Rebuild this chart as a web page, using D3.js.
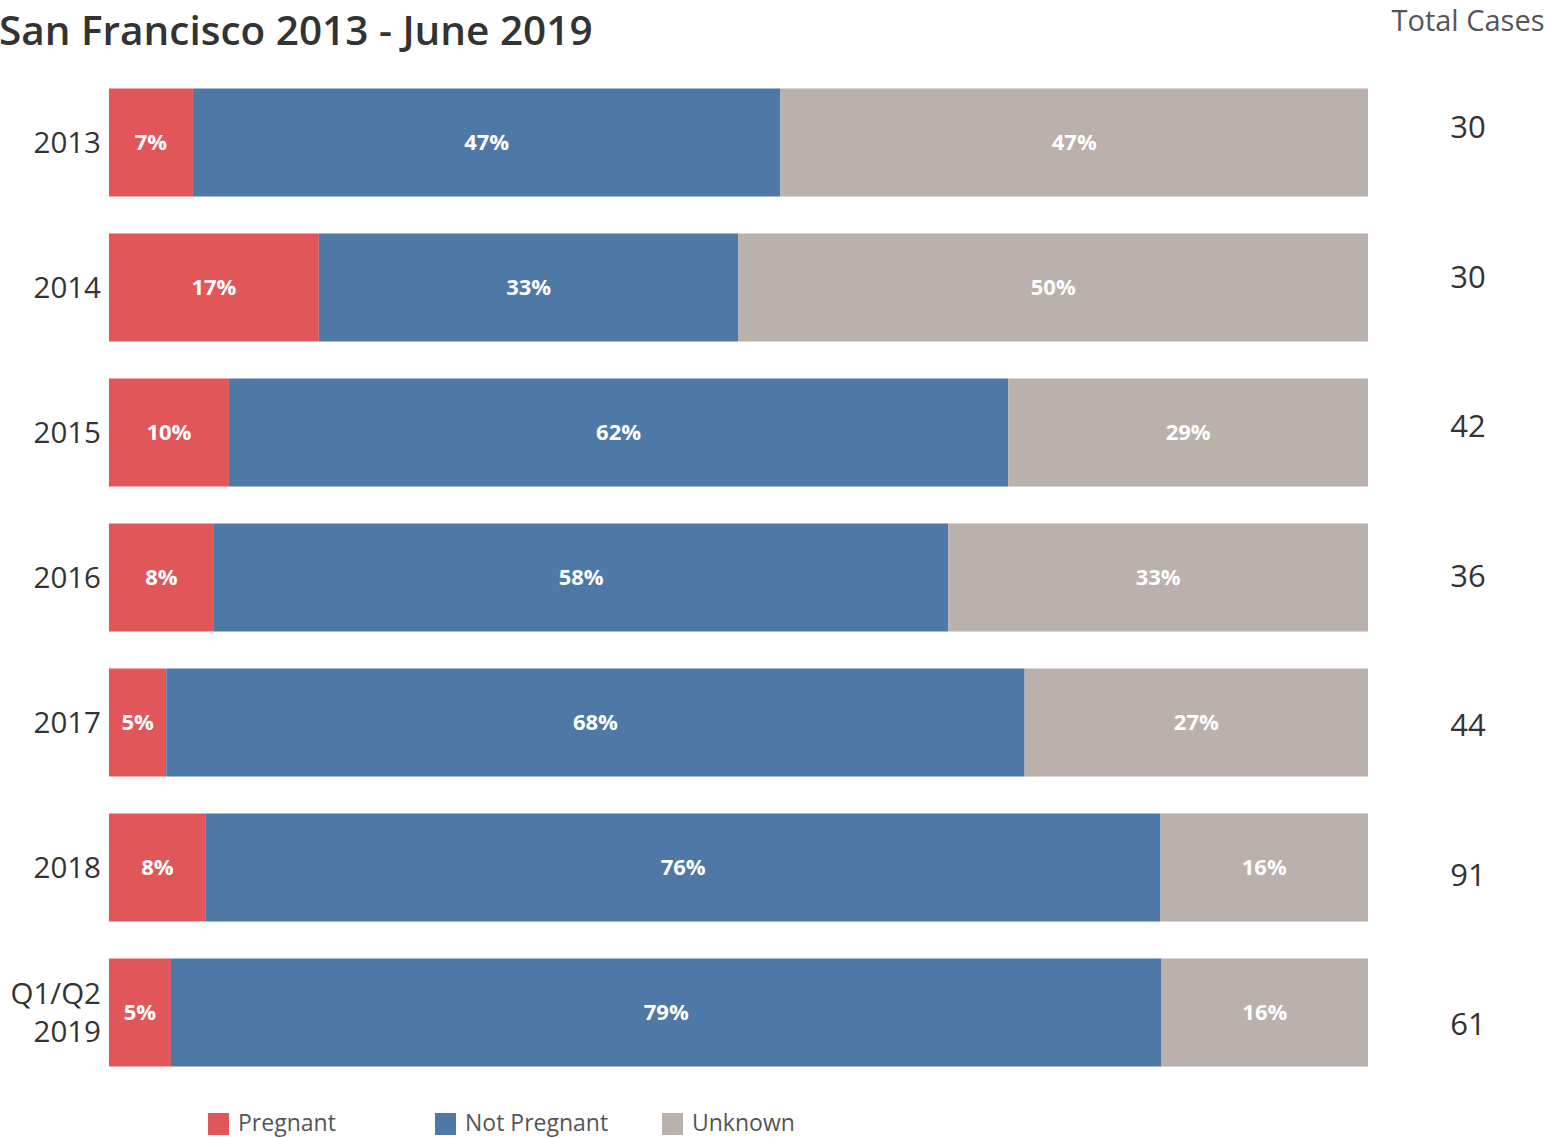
<!DOCTYPE html>
<html>
<head>
<meta charset="utf-8">
<script src="https://cdn.jsdelivr.net/npm/d3@7"></script>
<style>
  html, body { margin: 0; padding: 0; background: #fff; }
  svg { display: block; }
</style>
</head>
<body>
<svg id="chart" width="1555" height="1138"></svg>
<script>
// Case counts by period and pregnancy status
const periods = ["2013", "2014", "2015", "2016", "2017", "2018", "Q1/Q2\n2019"];
const pregnant = [2, 5, 4, 3, 2, 7, 3];
const notPregnant = [14, 10, 26, 21, 30, 69, 48];
const unknown = [14, 15, 12, 12, 12, 15, 10];
const seriesNames = ["Pregnant", "Not Pregnant", "Unknown"];
const seriesColors = ["#e15759", "#4e79a7", "#bab0ac"];

const svg = d3.select("#chart");
const font = "'Open Sans', 'Noto Sans', sans-serif";

const rows = periods.map((p, i) => {
  const total = pregnant[i] + notPregnant[i] + unknown[i];
  return { period: p, total, values: [pregnant[i], notPregnant[i], unknown[i]] };
});

const x = d3.scaleLinear().domain([0, 1]).range([109, 1368]);
const y = d3.scaleBand().domain(periods).range([70, 1085]).paddingInner(0.255).paddingOuter(0.1275);
const yTotals = d3.scaleBand().domain(periods).range([52.25, 1098.75]);
const color = d3.scaleOrdinal().domain(seriesNames).range(seriesColors);

// Title
svg.append("text")
  .attr("x", -1).attr("y", 45)
  .attr("font-family", font).attr("font-weight", 600).attr("font-size", 40.5)
  .attr("fill", "#333")
  .text("San Francisco 2013 - June 2019");

// Totals header
svg.append("text")
  .attr("x", 1468).attr("y", 31)
  .attr("text-anchor", "middle")
  .attr("font-family", font).attr("font-size", 29)
  .attr("fill", "#555")
  .text("Total Cases");

// Stacked segments
rows.forEach(r => {
  const g = svg.append("g");
  let cum = 0;
  const segs = r.values.map((v, k) => {
    const share = v / r.total;
    const s = { name: seriesNames[k], x0: cum, x1: cum + share, share };
    cum += share;
    return s;
  });
  g.selectAll("rect").data(segs).join("rect")
    .attr("x", d => x(d.x0))
    .attr("width", d => x(d.x1) - x(d.x0))
    .attr("y", y(r.period))
    .attr("height", y.bandwidth())
    .attr("fill", d => color(d.name));
  g.selectAll("text.val").data(segs).join("text")
    .attr("class", "val")
    .attr("x", d => (x(d.x0) + x(d.x1)) / 2)
    .attr("y", y(r.period) + y.bandwidth() / 2)
    .attr("dy", "0.36em")
    .attr("text-anchor", "middle")
    .attr("font-family", font).attr("font-weight", 700).attr("font-size", 22)
    .attr("fill", "#fff")
    .text(d => Math.round(d.share * 100) + "%");

  // Category label (may span two lines)
  const lines = r.period.split("\n");
  const cy = y(r.period) + y.bandwidth() / 2;
  const lh = 38;
  const lab = svg.append("text")
    .attr("text-anchor", "end")
    .attr("font-family", font).attr("font-size", 29.5)
    .attr("fill", "#333");
  lines.forEach((ln, j) => {
    lab.append("tspan")
      .attr("x", 101)
      .attr("y", cy + (j - (lines.length - 1) / 2) * lh)
      .attr("dy", "0.36em")
      .text(ln);
  });

  // Total cases
  svg.append("text")
    .attr("x", 1468)
    .attr("y", yTotals(r.period) + yTotals.bandwidth() / 2)
    .attr("dy", "0.36em")
    .attr("text-anchor", "middle")
    .attr("font-family", font).attr("font-size", 31)
    .attr("fill", "#333")
    .text(r.total);
});

// Legend
const legendX = [208, 435, 662];
const legend = svg.append("g");
seriesNames.forEach((n, i) => {
  legend.append("rect")
    .attr("x", legendX[i]).attr("y", 1113)
    .attr("width", 21).attr("height", 22)
    .attr("fill", color(n));
  legend.append("text")
    .attr("x", legendX[i] + 30).attr("y", 1123)
    .attr("dy", "0.36em")
    .attr("font-family", font).attr("font-size", 23)
    .attr("fill", "#555")
    .text(n);
});
</script>
</body>
</html>
